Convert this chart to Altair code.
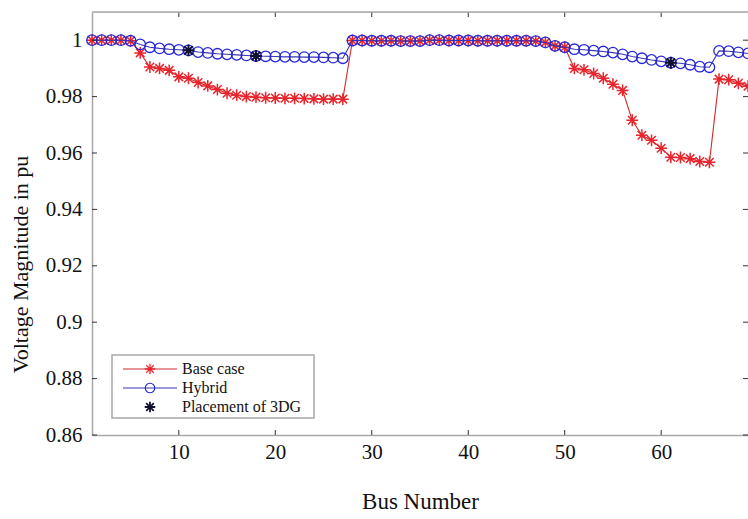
import altair as alt
import pandas as pd

# ---------------- data ----------------
bus = list(range(1, 70))
base_case = [
    1.0000, 1.0000, 1.0000, 1.0000, 0.9998, 0.9955, 0.9905, 0.9900, 0.9893, 0.9870,
    0.9865, 0.9850, 0.9838, 0.9825, 0.9812, 0.9805, 0.9800, 0.9798, 0.9796, 0.9795,
    0.9794, 0.9794, 0.9793, 0.9792, 0.9791, 0.9791, 0.9791, 0.9999, 0.9999, 0.9998,
    0.9998, 0.9998, 0.9997, 0.9997, 0.9997, 1.0000, 1.0000, 0.9999, 0.9999, 0.9999,
    0.9998, 0.9998, 0.9998, 0.9998, 0.9998, 0.9998, 0.9997, 0.9992, 0.9980, 0.9975,
    0.9900, 0.9895, 0.9882, 0.9865, 0.9844, 0.9822, 0.9716, 0.9663, 0.9645, 0.9617,
    0.9585, 0.9584, 0.9580, 0.9570, 0.9567, 0.9862, 0.9860, 0.9847, 0.9837,
]
hybrid = [
    1.0000, 1.0000, 1.0000, 1.0000, 0.9998, 0.9985, 0.9975, 0.9971, 0.9968, 0.9966,
    0.9964, 0.9958, 0.9955, 0.9952, 0.9950, 0.9948, 0.9946, 0.9944, 0.9943, 0.9942,
    0.9941, 0.9941, 0.9940, 0.9940, 0.9939, 0.9938, 0.9936, 0.9999, 0.9999, 0.9998,
    0.9998, 0.9998, 0.9997, 0.9997, 0.9997, 1.0000, 1.0000, 0.9999, 0.9999, 0.9999,
    0.9998, 0.9998, 0.9998, 0.9998, 0.9998, 0.9998, 0.9997, 0.9992, 0.9980, 0.9975,
    0.9968, 0.9966, 0.9963, 0.9960, 0.9956, 0.9950, 0.9942, 0.9936, 0.9930, 0.9925,
    0.9920, 0.9918, 0.9913, 0.9906, 0.9904, 0.9962, 0.9961, 0.9957, 0.9953,
]
dg_bus = [11, 18, 61]
y_ticks = [0.86, 0.88, 0.90, 0.92, 0.94, 0.96, 0.98, 1.00]
x_ticks = [10, 20, 30, 40, 50, 60]
legend_labels = ["Base case", "Hybrid", "Placement of 3DG"]

# ---------------- style ----------------
FONT = "Liberation Serif"
W, H = 656, 423
STAR = "M0,-1L0,1M-1,0L1,0M-0.72,-0.72L0.72,0.72M-0.72,0.72L0.72,-0.72"
RED = "#e8242c"
RED_LINE = "#d02a2a"
BLUE = "#2828d8"
BLUE_LINE = "#3535b5"
DGC = "#101030"
AXC = "#a8a8a8"
STAR_SIZE, CIRC_SIZE = 140, 110

df = pd.DataFrame({"bus": bus, "base": base_case, "hybrid": hybrid})
dg_df = pd.DataFrame({"bus": dg_bus, "v": [hybrid[b - 1] for b in dg_bus]})

xs = alt.Scale(domain=[1, 69], nice=False, zero=False)
ys = alt.Scale(domain=[0.86, 1.01], nice=False, zero=False)

x_axis = alt.Axis(values=x_ticks, title="Bus Number", grid=False, ticks=False,
                  labelFont=FONT, labelFontSize=21, labelColor="#111",
                  labelPadding=6, domainColor=AXC, domainWidth=1.5,
                  titleFont=FONT, titleFontSize=23, titleFontWeight="normal",
                  titleColor="#111", titlePadding=28)
y_axis = alt.Axis(values=y_ticks, title="Voltage Magnitude in pu", grid=False, ticks=False,
                  labelFont=FONT, labelFontSize=21, labelColor="#111",
                  labelPadding=10,
                  labelExpr="toString(round(datum.value*100)/100)",
                  domainColor=AXC, domainWidth=1.5,
                  titleFont=FONT, titleFontSize=22, titleFontWeight="normal",
                  titleColor="#111", titleAngle=-90, titleX=-72, titleY=252,
                  titleBaseline="middle", titleAlign="center")

X = alt.X("bus:Q", scale=xs, axis=x_axis)
base = alt.Chart(df)

base_line = base.mark_line(color=RED_LINE, strokeWidth=1.1).encode(
    x=X, y=alt.Y("base:Q", scale=ys, axis=y_axis))
base_pts = base.mark_point(shape=STAR, filled=False, color=RED, size=STAR_SIZE, strokeWidth=1.5, opacity=1).encode(
    x=alt.X("bus:Q", scale=xs), y=alt.Y("base:Q", scale=ys))
hyb_line = base.mark_line(color=BLUE_LINE, strokeWidth=1.1).encode(
    x=alt.X("bus:Q", scale=xs), y=alt.Y("hybrid:Q", scale=ys))
hyb_pts = base.mark_point(shape="circle", filled=False, color=BLUE, size=CIRC_SIZE, strokeWidth=1.3, opacity=1).encode(
    x=alt.X("bus:Q", scale=xs), y=alt.Y("hybrid:Q", scale=ys))
dg_pts = alt.Chart(dg_df).mark_point(shape=STAR, filled=False, color=DGC, size=STAR_SIZE, strokeWidth=2, opacity=1).encode(
    x=alt.X("bus:Q", scale=xs), y=alt.Y("v:Q", scale=ys))

# inward tick marks (MATLAB style box)
yt = alt.Chart(pd.DataFrame({"v": y_ticks}))
xt = alt.Chart(pd.DataFrame({"b": x_ticks}))
TC = "#333"
ticks = [
    yt.mark_rule(color=TC, strokeWidth=1).encode(x=alt.value(0), x2=alt.value(5), y=alt.Y("v:Q", scale=ys)),
    yt.mark_rule(color=TC, strokeWidth=1).encode(x=alt.value(W - 5), x2=alt.value(W), y=alt.Y("v:Q", scale=ys)),
    xt.mark_rule(color=TC, strokeWidth=1).encode(x=alt.X("b:Q", scale=xs), y=alt.value(H), y2=alt.value(H - 5)),
    xt.mark_rule(color=TC, strokeWidth=1).encode(x=alt.X("b:Q", scale=xs), y=alt.value(0), y2=alt.value(5)),
]
top_border = alt.Chart(pd.DataFrame({"k": [0]})).mark_rule(color=AXC, strokeWidth=1.5).encode(
    x=alt.value(0), x2=alt.value(W), y=alt.value(0))

# legend (decorative, pixel-placed)
one = pd.DataFrame({"k": [0]})
LX0, LX1, LXM, LXT = 31, 85, 58, 90
rows_y = [357, 376, 395]
leg = [alt.Chart(one).mark_rect(fill="white", stroke=AXC, strokeWidth=1.5).encode(
    x=alt.value(20), x2=alt.value(222), y=alt.value(343), y2=alt.value(406))]
colors_line = [RED_LINE, BLUE_LINE, None]
shapes = [(STAR, RED, 110, 1.3), ("circle", BLUE, 90, 1.2), (STAR, DGC, 110, 1.8)]
for i, lbl in enumerate(legend_labels):
    yy = rows_y[i]
    if colors_line[i]:
        leg.append(alt.Chart(one).mark_rule(color=colors_line[i], strokeWidth=1.1).encode(
            x=alt.value(LX0), x2=alt.value(LX1), y=alt.value(yy)))
    shp, col, sz, sw = shapes[i]
    leg.append(alt.Chart(one).mark_point(shape=shp, filled=False, color=col, size=sz, strokeWidth=sw, opacity=1).encode(
        x=alt.value(LXM), y=alt.value(yy)))
    leg.append(alt.Chart(pd.DataFrame({"label": [lbl]})).mark_text(
        font=FONT, fontSize=16, align="left", baseline="middle", color="#111").encode(
        x=alt.value(LXT), y=alt.value(yy), text="label:N"))

chart = alt.layer(
    base_line, base_pts, hyb_line, hyb_pts, dg_pts, *ticks, top_border, *leg
).properties(
    width=W, height=H,
    autosize=alt.AutoSizeParams(type="none"),
    padding={"left": 92, "top": 12, "right": 0, "bottom": 84},
).configure_view(stroke=None).configure(background="white")

chart.save("out.html", embed_options={"renderer": "svg", "actions": False})
